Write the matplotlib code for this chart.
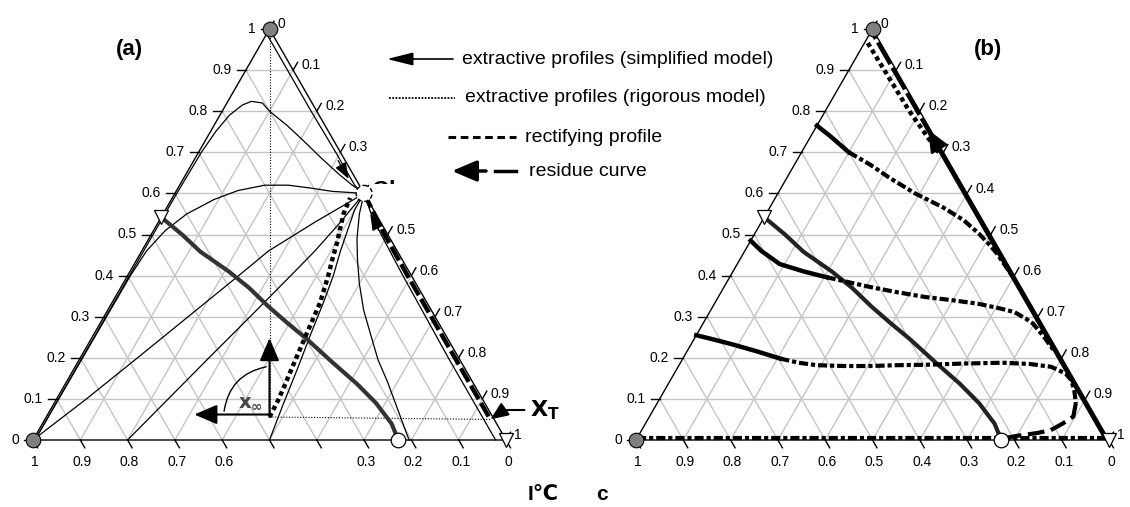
import numpy as np
import matplotlib.pyplot as plt
from matplotlib.patches import Circle, Rectangle

plt.rcParams['font.family'] = ['Liberation Sans', 'DejaVu Sans']

# ---------------- data: compositions as (top, right) mole fractions ----------------
tick_vals = [0, 0.1, 0.2, 0.3, 0.4, 0.5, 0.6, 0.7, 0.8, 0.9, 1]
tick_text = ['0', '0.1', '0.2', '0.3', '0.4', '0.5', '0.6', '0.7', '0.8', '0.9', '1']
hidden_a_right = ['0.4']
hidden_a_bottom = ['0.5', '0.4']

# distillation boundary (both panels)
bnd_top   = [0.542, 0.50, 0.458, 0.41, 0.37, 0.325, 0.285, 0.245, 0.19, 0.137, 0.09, 0.04, 0.012, 0.0]
bnd_right = [0.0, 0.065, 0.125, 0.209, 0.272, 0.335, 0.395, 0.457, 0.537, 0.616, 0.68, 0.738, 0.762, 0.772]

# panel (a): extractive profiles, simplified model
ext_top_top   = [0.985, 0.9, 0.8, 0.7, 0.62, 0.605]
ext_top_right = [0.003, 0.088, 0.188, 0.29, 0.37, 0.39]
ext_b_top   = [0.0, 0.3, 0.6, 0.7, 0.75, 0.79, 0.815, 0.824, 0.82, 0.80, 0.765, 0.728, 0.687, 0.647, 0.62, 0.6]
ext_b_right = [0.004, 0.004, 0.004, 0.006, 0.011, 0.02, 0.035, 0.05, 0.075, 0.10, 0.155, 0.208, 0.265, 0.323, 0.365, 0.4]
ext_c_top   = [0.0, 0.2, 0.4, 0.46, 0.51, 0.55, 0.585, 0.607, 0.62, 0.62, 0.613, 0.605, 0.6]
ext_c_right = [0.004, 0.005, 0.006, 0.01, 0.025, 0.05, 0.09, 0.13, 0.18, 0.23, 0.28, 0.33, 0.4]
ext_d_top   = [0.0, 0.1, 0.2, 0.3, 0.4, 0.46, 0.53, 0.6]
ext_d_right = [0.0, 0.063, 0.121, 0.178, 0.235, 0.268, 0.331, 0.4]
ext_e_top   = [0.0, 0.1, 0.2, 0.3, 0.4, 0.46, 0.53, 0.6]
ext_e_right = [0.2, 0.236, 0.272, 0.309, 0.345, 0.366, 0.385, 0.4]
ext_f_top   = [0.0, 0.09, 0.17, 0.26, 0.333, 0.40, 0.46, 0.52, 0.56, 0.6]
ext_f_right = [0.5, 0.485, 0.473, 0.458, 0.447, 0.435, 0.42, 0.408, 0.40, 0.4]
ext_g_top   = [0.0, 0.073, 0.14, 0.195, 0.26, 0.316, 0.38, 0.438, 0.49, 0.55, 0.6]
ext_g_right = [0.795, 0.735, 0.68, 0.632, 0.583, 0.541, 0.5, 0.467, 0.44, 0.415, 0.4]
ext_r_top   = [0.6, 0.55, 0.5, 0.4, 0.3, 0.2, 0.1, 0.0]
ext_r_right = [0.4, 0.44, 0.486, 0.582, 0.68, 0.778, 0.878, 0.978]
# panel (a): rigorous extractive profile from x_inf
rig_top   = [0.056, 0.096, 0.137, 0.19, 0.26, 0.333, 0.397, 0.44, 0.479, 0.515, 0.552, 0.589]
rig_right = [0.472, 0.47, 0.465, 0.458, 0.449, 0.44, 0.425, 0.413, 0.403, 0.392, 0.381, 0.376]
# panel (a): residue curve to x_T
res_top   = [0.6, 0.5, 0.4, 0.3, 0.2, 0.1, 0.05]
res_right = [0.4, 0.493, 0.592, 0.692, 0.792, 0.892, 0.942]
x_inf = (0.056, 0.472)
x_T = (0.05, 0.942)
saddle = (0.6, 0.4)
azeo = (0.0, 0.772)
entrainer_pt = (0.542, 0.0)

# panel (b): profiles (solid start, dashed/dotted remainder)
p1s_top, p1s_right = [0.765, 0.74, 0.72, 0.70], [0.0, 0.04, 0.07, 0.10]
p1d_top   = [0.70, 0.67, 0.639, 0.60, 0.566, 0.535, 0.502, 0.475, 0.453, 0.43, 0.40]
p1d_right = [0.10, 0.16, 0.215, 0.29, 0.366, 0.425, 0.474, 0.51, 0.537, 0.562, 0.595]
p2s_top, p2s_right = [0.485, 0.46, 0.428, 0.41, 0.396], [0.0, 0.035, 0.09, 0.15, 0.205]
p2d_top   = [0.396, 0.372, 0.36, 0.348, 0.34, 0.331, 0.32, 0.311, 0.295, 0.283, 0.265, 0.25, 0.22]
p2d_right = [0.205, 0.31, 0.37, 0.437, 0.50, 0.56, 0.61, 0.645, 0.677, 0.698, 0.72, 0.738, 0.772]
p3s_top, p3s_right = [0.255, 0.245, 0.232, 0.215, 0.198], [0.0, 0.04, 0.09, 0.15, 0.206]
p3d_top   = [0.198, 0.188, 0.182, 0.18, 0.18, 0.182, 0.183, 0.186, 0.188, 0.185, 0.178, 0.162, 0.146, 0.121, 0.09]
p3d_right = [0.206, 0.25, 0.291, 0.35, 0.406, 0.46, 0.519, 0.6, 0.68, 0.74, 0.789, 0.827, 0.847, 0.866, 0.885]
p3t_top   = [0.09, 0.057, 0.04, 0.024, 0.017, 0.01, 0.004]
p3t_right = [0.885, 0.896, 0.882, 0.865, 0.84, 0.80, 0.775]
edge_solid_top, edge_solid_right = [0.015, 0.73], [0.98, 0.265]
edge_dash_top, edge_dash_right = [0.73, 0.985], [0.265, 0.01]
b_dot_top   = [0.966, 0.9, 0.8, 0.737, 0.70]
b_dot_right = [0.007, 0.075, 0.178, 0.248, 0.29]
b_base_top, b_base_right = [0.006, 0.006], [0.0, 0.992]

# ---------------- geometry ----------------
ORIGIN = {'a': (33.0, 440.0), 'b': (636.0, 440.0)}
W, H = 473.0, 411.0
GRID = '#c4c4c4'
TICK = 9.0


def pt(panel, top, right):
    x0, y0 = ORIGIN[panel]
    top = np.asarray(top, float)
    right = np.asarray(right, float)
    return x0 + (right + top / 2) * W, y0 - top * H


def arrow(ax, tail, tip, hl, hw, lw=1.0, ms=20):
    ax.annotate('', xy=tip, xytext=tail,
                arrowprops=dict(arrowstyle='-|>,head_length=%g,head_width=%g' % (hl, hw),
                                color='black', lw=lw, shrinkA=0, shrinkB=0,
                                mutation_scale=ms))


def frame(ax, p, hide_right=(), hide_bottom=()):
    for v in tick_vals[1:-1]:
        ax.plot(*pt(p, [v, v], [0, 1 - v]), color=GRID, lw=1.0, zorder=1)
        ax.plot(*pt(p, [0, 1 - v], [v, v]), color=GRID, lw=1.0, zorder=1)
        ax.plot(*pt(p, [0, 1 - v], [1 - v, 0]), color=GRID, lw=1.0, zorder=1)
    ax.plot(*pt(p, [1, 0, 0, 1], [0, 0, 1, 0]), color='black', lw=1.0, zorder=2)
    dx, dy = 0.4987, 0.8667
    for v, t in zip(tick_vals, tick_text):
        # left axis (top component)
        x, y = pt(p, v, 0)
        ax.plot([x, x - TICK], [y, y], color='black', lw=1.0, zorder=2)
        ax.text(x - TICK - 5, y, t, ha='right', va='center', fontsize=10)
        # right axis (right component)
        x, y = pt(p, 1 - v, v)
        ax.plot([x, x + TICK * dx], [y, y - TICK * dy], color='black', lw=1.0, zorder=2)
        if t not in hide_right:
            ax.text(x + TICK * dx + 4, y - TICK * dy + 3, t, ha='left', va='center', fontsize=10)
        # bottom axis (left component)
        x, y = pt(p, 0, 1 - v)
        ax.plot([x, x + TICK * dx], [y, y + TICK * dy], color='black', lw=1.0, zorder=2)
        if t not in hide_bottom:
            ax.text(x + 2, 462, t, ha='center', va='center', fontsize=10)


def markers(ax, p):
    ax.plot(*pt(p, [1, 0], [0, 0]), 'o', ms=10.5, mfc='#7f7f7f', mec='black', mew=0.8, zorder=6)
    ax.plot(*pt(p, *azeo), 'o', ms=10.5, mfc='white', mec='black', mew=0.9, zorder=6)
    ax.plot(*pt(p, [entrainer_pt[0], 0], [entrainer_pt[1], 1]), 'v', ms=10, mfc='white',
            mec='black', mew=0.9, zorder=6)


fig = plt.figure(figsize=(11.3, 5.07), dpi=100)
ax = fig.add_axes([0, 0, 1, 1])
ax.set_xlim(0, 1130)
ax.set_ylim(507, 0)
ax.axis('off')

thin = dict(color='black', lw=0.9, zorder=3)
dots = dict(color='black', lw=3.2, linestyle=(0, (1, 0.8)), zorder=4)
mixed = dict(color='black', lw=3.0, linestyle=(0, (2.2, 0.7, 1, 0.7)), zorder=4)

# ================= panel (a) =================
frame(ax, 'a', hidden_a_right, hidden_a_bottom)
ax.plot(*pt('a', bnd_top, bnd_right), color='#333333', lw=3.0, zorder=4)
for tp, rt in [(ext_top_top, ext_top_right), (ext_b_top, ext_b_right), (ext_c_top, ext_c_right),
               (ext_d_top, ext_d_right), (ext_e_top, ext_e_right), (ext_f_top, ext_f_right),
               (ext_g_top, ext_g_right), (ext_r_top, ext_r_right)]:
    ax.plot(*pt('a', tp, rt), **thin)
ax.plot(*pt('a', rig_top, rig_right), **dots)
ax.plot(*pt('a', res_top, res_right), color='black', lw=3.2, linestyle=(0, (3.5, 1)), zorder=4)
# guide lines
ax.plot(*pt('a', [1.0, x_inf[0]], [0.0, x_inf[1]]), color='black', lw=0.8,
        linestyle=(0, (1, 1.5)), zorder=3)
ax.plot(*pt('a', [x_inf[0], x_T[0]], [x_inf[1], x_T[1]]), color='black', lw=0.8,
        linestyle=(0, (1, 1.5)), zorder=3)
# arrows on curves
arrow(ax, pt('a', 0.68, 0.305), pt('a', 0.635, 0.35), 0.5, 0.18, lw=0.9)
arrow(ax, pt('a', 0.51, 0.476), pt('a', 0.55, 0.438), 0.5, 0.18, lw=0.9)
# x_inf construction
arrow(ax, pt('a', *x_inf), pt('a', 0.248, 0.376), 0.7, 0.3, lw=1.5)
arrow(ax, pt('a', 0.062, 0.47), pt('a', 0.062, 0.31), 0.7, 0.3, lw=1.5)
ax.annotate('', xy=pt('a', 0.178, 0.404), xytext=pt('a', 0.07, 0.369),
            arrowprops=dict(arrowstyle='-', color='black', lw=1.0, shrinkA=0, shrinkB=0,
                            connectionstyle='arc3,rad=-0.35'))
ax.text(*pt('a', 0.088, 0.415), r'$\mathbf{x_\infty}$', color='#444444', fontsize=14,
        ha='center', va='center')
ax.annotate(r'$\mathbf{X_T}$', xy=pt('a', *x_T), xytext=(530, 410), fontsize=16,
            ha='left', va='center',
            arrowprops=dict(arrowstyle='-|>,head_length=0.6,head_width=0.25', color='black',
                            lw=1.5, shrinkA=2, shrinkB=0, mutation_scale=18,
                            connectionstyle='angle,angleA=0,angleB=35,rad=0'))
markers(ax, 'a')
ax.add_patch(Circle(pt('a', *saddle), 8, fc='white', ec='black', lw=1.0, ls=(0, (3, 2)), zorder=6))
# clipped remnant of a label next to the saddle
frag = ax.text(384, 191, 'Cl', fontsize=17, fontweight='bold', ha='center', va='center')
clip = Rectangle((368, 160), 40, 24, transform=ax.transData)
frag.set_clip_path(clip)
frag.set_clip_on(True)
ax.text(129, 49, '(a)', fontsize=16, fontweight='bold', ha='center', va='center')

# legend
arrow(ax, (453, 59), (387, 59), 0.8, 0.2, lw=1.2)
ax.text(462, 59, 'extractive profiles (simplified model)', fontsize=14, va='center')
ax.plot([389, 455], [98, 98], color='black', lw=1.3, linestyle=(0, (1, 0.8)))
ax.text(465, 98, 'extractive profiles (rigorous model)', fontsize=14, va='center')
ax.plot([448, 516], [137, 137], color='black', lw=2.2, linestyle=(0, (2.5, 1.5)))
ax.text(525, 137, 'rectifying profile', fontsize=14, va='center')
arrow(ax, (486, 171), (452, 171), 0.75, 0.32, lw=2.5, ms=20)
ax.plot([495, 516], [171, 171], color='black', lw=2.5)
ax.text(529, 171, 'residue curve', fontsize=14, va='center')

# ================= panel (b) =================
frame(ax, 'b')
ax.plot(*pt('b', bnd_top, bnd_right), color='#222222', lw=3.0, zorder=4)
ax.plot(*pt('b', b_base_top, b_base_right), **mixed)
for tp, rt in [(p1s_top, p1s_right), (p2s_top, p2s_right), (p3s_top, p3s_right)]:
    ax.plot(*pt('b', tp, rt), color='black', lw=3.2, zorder=4)
for tp, rt in [(p1d_top, p1d_right), (p2d_top, p2d_right), (p3d_top, p3d_right)]:
    ax.plot(*pt('b', tp, rt), **mixed)
ax.plot(*pt('b', p3t_top, p3t_right), color='black', lw=3.0, linestyle=(0, (4, 1.6)), zorder=4)
ax.plot(*pt('b', edge_solid_top, edge_solid_right), color='black', lw=3.2, zorder=4)
ax.plot(*pt('b', edge_dash_top, edge_dash_right), color='black', lw=3.0,
        linestyle=(0, (6, 1)), zorder=4)
ax.plot(*pt('b', b_dot_top, b_dot_right), **dots)
arrow(ax, pt('b', 0.70, 0.295), pt('b', 0.755, 0.24), 0.7, 0.3, lw=1.5)
markers(ax, 'b')
ax.text(988, 50, '(b)', fontsize=16, fontweight='bold', ha='center', va='center')

ax.text(543, 494, 'I\u2103', fontsize=15, fontweight='bold', ha='center', va='center')
ax.text(602, 494, 'c', fontsize=15, fontweight='bold', ha='center', va='center')

fig.savefig('out.png', dpi=100)
